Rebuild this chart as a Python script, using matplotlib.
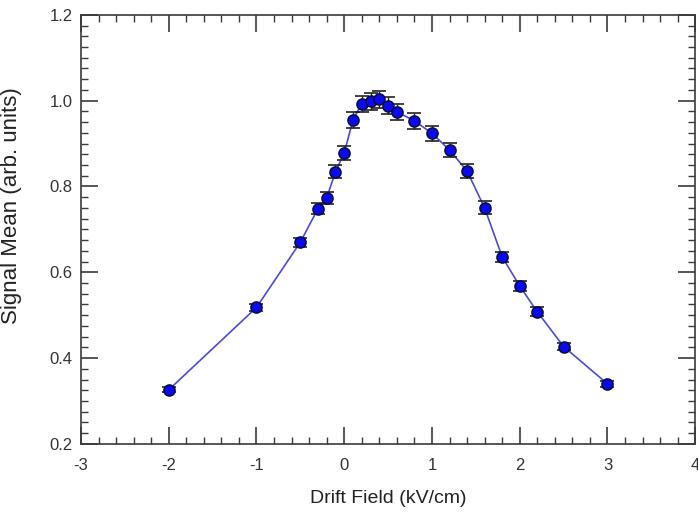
import numpy as np
import matplotlib
matplotlib.use("Agg")
import matplotlib.pyplot as plt
from matplotlib.ticker import MultipleLocator, FormatStrFormatter

plt.rcParams['font.family'] = ['Liberation Sans', 'DejaVu Sans']
plt.rcParams['axes.unicode_minus'] = False

# drift field scan
field = [-2.0, -1.0, -0.5, -0.3, -0.2, -0.1, 0.0, 0.1, 0.2, 0.3, 0.4, 0.5,
         0.6, 0.8, 1.0, 1.2, 1.4, 1.6, 1.8, 2.0, 2.2, 2.5, 3.0]
signal_mean = [0.326, 0.518, 0.670, 0.748, 0.773, 0.834, 0.878, 0.955, 0.993,
               0.999, 1.003, 0.988, 0.974, 0.953, 0.924, 0.885, 0.836, 0.750,
               0.636, 0.568, 0.508, 0.427, 0.340]
signal_err = [0.006, 0.009, 0.011, 0.013, 0.014, 0.015, 0.016, 0.018, 0.019,
              0.020, 0.020, 0.020, 0.019, 0.019, 0.018, 0.017, 0.016, 0.015,
              0.012, 0.011, 0.010, 0.008, 0.007]

fig = plt.figure(figsize=(6.98, 5.12), dpi=100)
ax = fig.add_axes([0.116, 0.133, 0.880, 0.838])

ax.plot(field, signal_mean, color='#4a4ad8', lw=1.2, zorder=2)
ax.errorbar(field, signal_mean, yerr=signal_err, fmt='none', ecolor='#222222',
            elinewidth=1.0, capsize=5, capthick=1.2, zorder=3)
ax.plot(field, signal_mean, 'o', ms=8, mfc='#0a0aee', mec='#0c0c3a', mew=1.1,
        zorder=4)

ax.set_xlim(-3, 4)
ax.set_ylim(0.2, 1.2)
ax.xaxis.set_major_locator(MultipleLocator(1))
ax.xaxis.set_minor_locator(MultipleLocator(0.2))
ax.yaxis.set_major_locator(MultipleLocator(0.2))
ax.yaxis.set_minor_locator(MultipleLocator(0.025))
ax.yaxis.set_major_formatter(FormatStrFormatter('%.1f'))

for s in ax.spines.values():
    s.set_color('#3a3a3a')
    s.set_linewidth(1.2)
ax.tick_params(which='both', direction='in', top=True, right=True,
               color='#3a3a3a', labelcolor='#333333', labelsize=12)
ax.tick_params(which='major', length=12, width=1.2)
ax.tick_params(axis='x', which='major', pad=10)
ax.tick_params(axis='y', which='major', pad=6)
ax.tick_params(which='minor', length=5, width=1.0)

ax.set_xlabel('Drift Field (kV/cm)', fontsize=14, color='#222222')
ax.set_ylabel('Signal Mean (arb. units)', fontsize=16, color='#222222')
ax.xaxis.set_label_coords(0.5, -0.107)
ax.yaxis.set_label_coords(-0.096, 0.555)

fig.savefig('out.png', dpi=100)
